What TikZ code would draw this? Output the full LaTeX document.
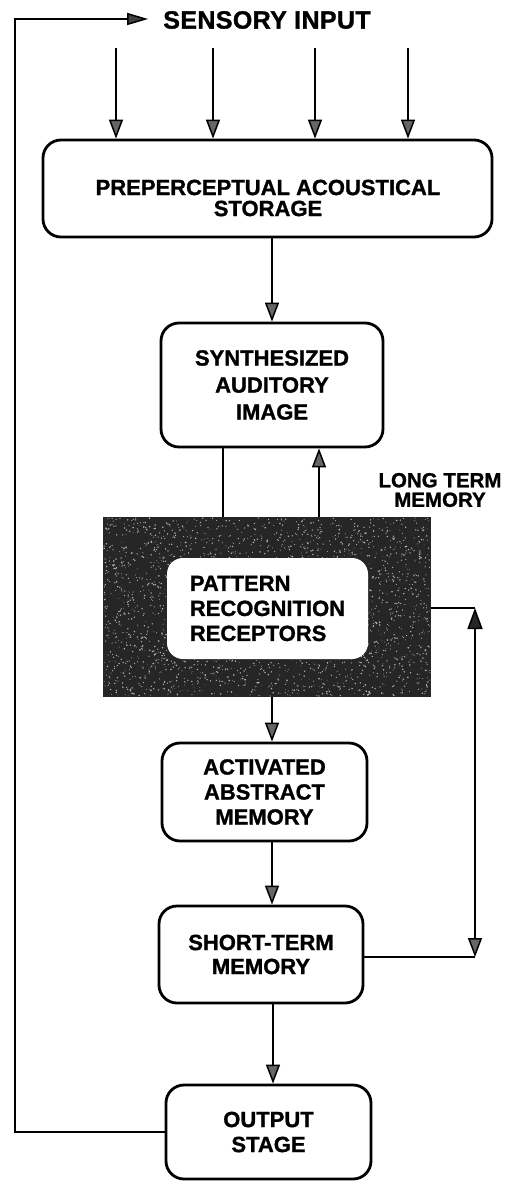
\documentclass[tikz,border=0pt]{standalone}
\usepackage{fontspec}
\setmainfont{Liberation Sans}[BoldFeatures={FakeBold=1.2}]
\usetikzlibrary{arrows.meta}

\begin{document}
\begin{tikzpicture}[x=1pt,y=-1pt,
  box/.style={draw, line width=2.8pt, rounded corners=18pt, fill=white, inner sep=0pt},
  lbl/.style={font=\bfseries\fontsize{22}{27}\selectfont, align=center},
  conn/.style={line width=2.5pt},
  tip/.style={-{Triangle[length=19pt,width=14pt,line width=1.5pt,fill=black!60]}},
  tipboth/.style={{Triangle[length=21pt,width=15pt,line width=1.5pt,fill=black!85]}-{Triangle[length=19pt,width=14pt,line width=1.5pt,fill=black!60]}},
]
\useasboundingbox (0,0) rectangle (508,1182);

% heading
\node[inner sep=0pt, font=\bfseries\fontsize{25}{28}\selectfont\addfontfeature{LetterSpace=1.5}] (si) at (267,20) {SENSORY INPUT};

% preperceptual storage
\node[box, minimum width=449, minimum height=97] (pas) at (267.5,188.5) {};
\node[inner sep=0pt, align=center, font=\bfseries\fontsize{22}{21}\selectfont] (pastext) at (268,198) {PREPERCEPTUAL ACOUSTICAL\\STORAGE};

% synthesized auditory image
\node[box, lbl, minimum width=222, minimum height=124] (sai) at (272,385) {SYNTHESIZED\\AUDITORY\\IMAGE};

% long term memory block with its speckled surface
\node[fill=black!85, minimum width=328, minimum height=180, inner sep=0pt] (ltm) at (267,607) {};
\pgfmathsetseed{42}
\foreach \i in {1,...,2600}{
  \pgfmathsetmacro\px{104+rnd*326}
  \pgfmathsetmacro\py{518+rnd*178}
  \pgfmathsetmacro\pr{0.35+rnd*0.5}
  \fill[gray!55] (\px,\py) circle (\pr pt);
}
\node[box, draw=none, rounded corners=16pt, minimum width=201, minimum height=101,
      font=\bfseries\fontsize{22}{25}\selectfont, align=left] (prr) at (267.5,608.5) {PATTERN\\RECOGNITION\\RECEPTORS};
\node[inner sep=0pt, align=center, font=\bfseries\fontsize{20.5}{19.5}\selectfont] (ltmlabel) at (440,490) {LONG TERM\\MEMORY};

% later stages
\node[box, lbl, font=\bfseries\fontsize{22}{25}\selectfont, minimum width=205, minimum height=98] (aam) at (264.5,792) {ACTIVATED\\ABSTRACT\\MEMORY};
\node[box, lbl, font=\bfseries\fontsize{22}{24}\selectfont, minimum width=204, minimum height=97] (stm) at (261,954.5) {SHORT-TERM\\MEMORY};
\node[box, lbl, font=\bfseries\fontsize{22}{25}\selectfont, minimum width=205, minimum height=94] (out) at (268.5,1132) {OUTPUT\\STAGE};

% sensory channels
\foreach \n/\x in {1/116,2/213,3/315,4/408}{
  \coordinate (in\n) at (\x,48);
  \draw[conn,tip] (in\n) -- (in\n |- pas.north);
}

% main chain
\draw[conn,tip] (pas.south -| sai.north) -- (sai.north);
\draw[conn] ([xshift=-49pt]sai.south) -- ([xshift=-49pt]sai.south |- ltm.north);
\draw[conn,tip] ([xshift=47pt]sai.south |- ltm.north) -- ([xshift=47pt]sai.south);
\draw[conn,tip] ([xshift=5pt]ltm.south) -- ([xshift=5pt]ltm.south |- aam.north);
\draw[conn,tip] ([xshift=7.5pt]aam.south) -- ([xshift=7.5pt]aam.south |- stm.north);
\draw[conn,tip] ([xshift=4.5pt]out.north |- stm.south) -- ([xshift=4.5pt]out.north);

% exchange between short-term memory and long term memory
\coordinate (rt) at (475,608);
\coordinate (rb) at (475,957);
\draw[conn] (ltm.east |- rt) -- (rt);
\draw[conn] (stm.east |- rb) -- (rb);
\draw[conn,tipboth] (rt) -- (rb);

% feedback from output to input
\coordinate (fb) at (15,19);
\draw[conn,-{Triangle[length=21pt,width=12pt,line width=1.5pt,fill=black!75]}, shorten >=15pt] (out.west) -| (fb) -- (fb -| si.west);
\end{tikzpicture}
\end{document}
